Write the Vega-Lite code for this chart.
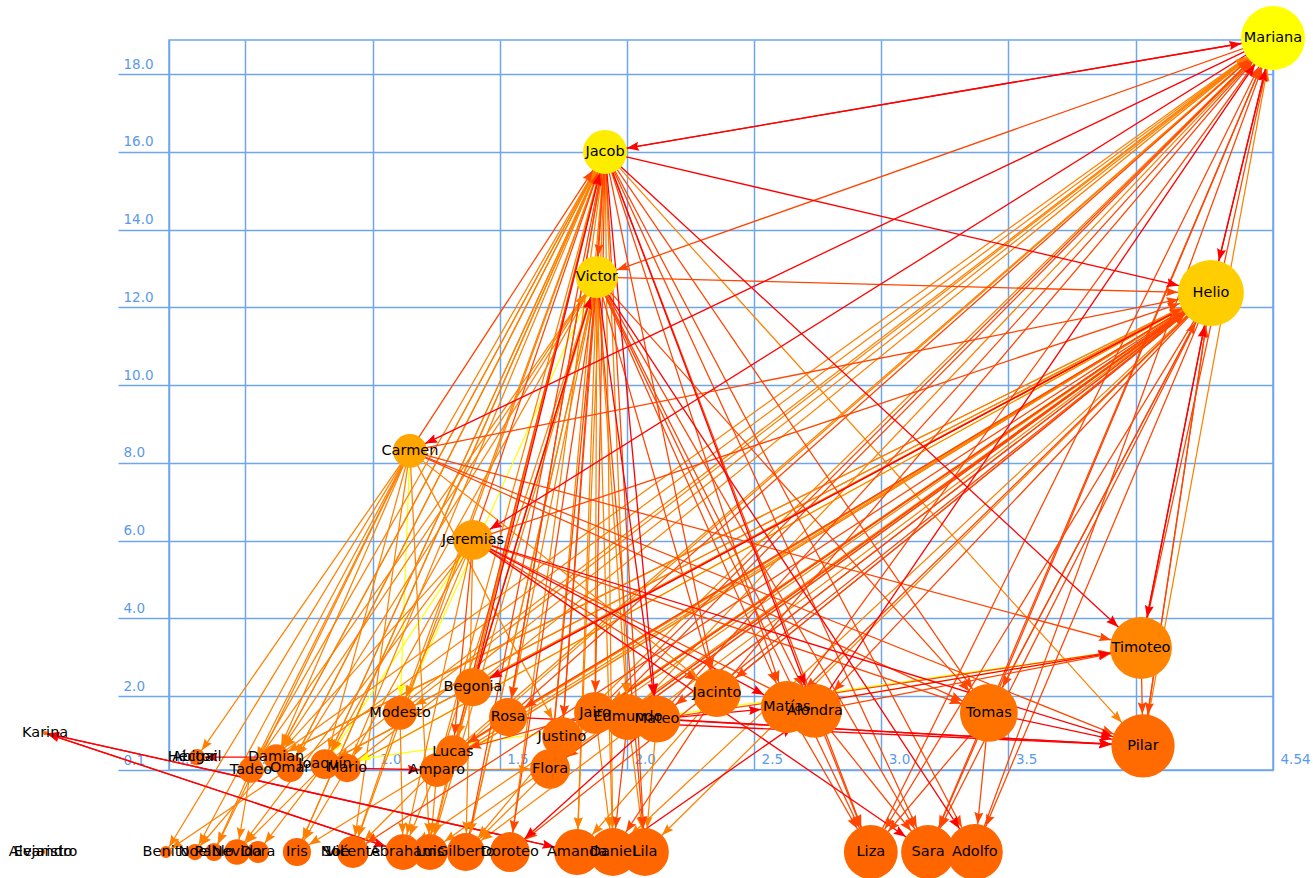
{
"$schema":"https://vega.github.io/schema/vega-lite/v6.json",
"autosize":"none",
"padding":{"left":169,"top":40,"right":40,"bottom":108},
"width":1104,
"height":730,
"background":"white",
"config":{
 "view":{"stroke":"#6ea6ee","strokeWidth":1.5},
 "axis":{"domain":false,"grid":true,"gridColor":"#6ea6ee","gridWidth":1.5,"labelColor":"#5a9aea","labelFont":"DejaVu Sans","labelFontSize":13.5,"labelFlush":false,"labelOverlap":false,"labelBound":false,"labelBaseline":"bottom","labelAlign":"left"},
 "axisX":{"ticks":false,"tickSize":0,"labelPadding":-4,"labelOffset":7},
 "axisY":{"ticks":true,"tickSize":51,"tickColor":"#6ea6ee","tickWidth":1.5,"labelPadding":-5,"labelOffset":-3}
},
"datasets":{
"nodes":[
{"name":"Mariana","x":4.54,"y":18.93,"deg":93,"rank":1.0},
{"name":"Jacob","x":1.914,"y":16.0,"deg":44,"rank":0.88},
{"name":"Victor","x":1.882,"y":12.78,"deg":40,"rank":0.76},
{"name":"Helio","x":4.296,"y":12.37,"deg":99,"rank":0.68},
{"name":"Carmen","x":1.147,"y":8.31,"deg":26,"rank":0.42},
{"name":"Jeremias","x":1.395,"y":6.02,"deg":36,"rank":0.36},
{"name":"Timoteo","x":4.021,"y":3.24,"deg":87,"rank":0.2},
{"name":"Pilar","x":4.029,"y":0.72,"deg":91,"rank":0.03},
{"name":"Tomas","x":3.423,"y":1.57,"deg":76,"rank":0.08},
{"name":"Alondra","x":2.739,"y":1.62,"deg":66,"rank":0.06},
{"name":"Matías","x":2.629,"y":1.72,"deg":61,"rank":0.06},
{"name":"Jacinto","x":2.354,"y":2.08,"deg":52,"rank":0.07},
{"name":"Jairo","x":1.875,"y":1.57,"deg":40,"rank":0.05},
{"name":"Edmundo","x":2.004,"y":1.46,"deg":48,"rank":0.05},
{"name":"Mateo","x":2.118,"y":1.41,"deg":50,"rank":0.05},
{"name":"Justino","x":1.745,"y":0.95,"deg":36,"rank":0.05},
{"name":"Rosa","x":1.533,"y":1.46,"deg":33,"rank":0.05},
{"name":"Begonia","x":1.395,"y":2.23,"deg":33,"rank":0.09},
{"name":"Modesto","x":1.108,"y":1.57,"deg":26,"rank":0.05},
{"name":"Lucas","x":1.316,"y":0.56,"deg":26,"rank":0.05},
{"name":"Flora","x":1.698,"y":0.13,"deg":36,"rank":0.04},
{"name":"Amparo","x":1.253,"y":0.1,"deg":26,"rank":0.04},
{"name":"Damian","x":0.621,"y":0.43,"deg":15,"rank":0.04},
{"name":"Tadeo","x":0.522,"y":0.1,"deg":15,"rank":0.03},
{"name":"Omar","x":0.676,"y":0.15,"deg":18,"rank":0.03},
{"name":"Joaquín","x":0.813,"y":0.25,"deg":20,"rank":0.04},
{"name":"Mario","x":0.9,"y":0.15,"deg":18,"rank":0.03},
{"name":"Héctor","x":0.29,"y":0.43,"deg":1.5,"rank":0.02},
{"name":"Abigail","x":0.31,"y":0.43,"deg":6,"rank":0.02},
{"name":"Karina","x":-0.287,"y":1.05,"deg":0.4,"rank":0},
{"name":"Alejandro","x":-0.295,"y":-2.01,"deg":0.4,"rank":0},
{"name":"Evaristo","x":-0.295,"y":-2.01,"deg":0.4,"rank":0},
{"name":"Benito","x":0.188,"y":-2.01,"deg":3.3,"rank":0},
{"name":"Noel","x":0.302,"y":-2.01,"deg":6,"rank":0},
{"name":"Pablo","x":0.377,"y":-2.01,"deg":7.4,"rank":0},
{"name":"Nevida","x":0.467,"y":-2.01,"deg":15,"rank":0},
{"name":"Dora","x":0.55,"y":-2.01,"deg":11,"rank":0},
{"name":"Iris","x":0.703,"y":-2.01,"deg":18,"rank":0},
{"name":"Sol","x":0.845,"y":-2.01,"deg":0.4,"rank":0},
{"name":"Noé","x":0.853,"y":-2.01,"deg":0.4,"rank":0},
{"name":"Vicente","x":0.923,"y":-2.01,"deg":23,"rank":0},
{"name":"Abraham","x":1.12,"y":-2.01,"deg":29,"rank":0},
{"name":"Luis","x":1.226,"y":-2.01,"deg":29,"rank":0},
{"name":"Gilberto","x":1.367,"y":-2.01,"deg":33,"rank":0},
{"name":"Doroteo","x":1.54,"y":-2.01,"deg":36,"rank":0},
{"name":"Amanda","x":1.804,"y":-2.01,"deg":48,"rank":0},
{"name":"Daniel","x":1.945,"y":-2.01,"deg":52,"rank":0},
{"name":"Lila","x":2.071,"y":-2.01,"deg":52,"rank":0},
{"name":"Liza","x":2.959,"y":-2.01,"deg":66,"rank":0},
{"name":"Sara","x":3.184,"y":-2.01,"deg":66,"rank":0},
{"name":"Adolfo","x":3.368,"y":-2.01,"deg":71,"rank":0}
],
"edges":[
{"s":"Victor","t":"Modesto","w":1},{"s":"Carmen","t":"Modesto","w":1},{"s":"Jeremias","t":"Joaquín","w":1},{"s":"Timoteo","t":"Matías","w":1},{"s":"Timoteo","t":"Joaquín","w":1},{"s":"Helio","t":"Mario","w":1},
{"s":"Carmen","t":"Abigail","w":2},{"s":"Carmen","t":"Benito","w":2},{"s":"Carmen","t":"Noel","w":2},{"s":"Carmen","t":"Pablo","w":2},{"s":"Carmen","t":"Damian","w":2},{"s":"Carmen","t":"Tadeo","w":2},{"s":"Carmen","t":"Joaquín","w":2},{"s":"Carmen","t":"Vicente","w":2},{"s":"Carmen","t":"Luis","w":2},{"s":"Carmen","t":"Jacinto","w":2},{"s":"Carmen","t":"Justino","w":2},
{"s":"Jeremias","t":"Damian","w":2},{"s":"Jeremias","t":"Nevida","w":2},{"s":"Jeremias","t":"Mario","w":2},{"s":"Jeremias","t":"Abraham","w":2},{"s":"Jeremias","t":"Modesto","w":2},{"s":"Jeremias","t":"Gilberto","w":2},
{"s":"Victor","t":"Damian","w":2},{"s":"Victor","t":"Joaquín","w":2},{"s":"Victor","t":"Omar","w":2},{"s":"Victor","t":"Lucas","w":2},{"s":"Victor","t":"Amparo","w":2},{"s":"Victor","t":"Gilberto","w":2},{"s":"Victor","t":"Luis","w":2},{"s":"Victor","t":"Rosa","w":2},{"s":"Victor","t":"Jairo","w":2},{"s":"Victor","t":"Edmundo","w":2},{"s":"Victor","t":"Daniel","w":2},{"s":"Victor","t":"Amanda","w":2},
{"s":"Jacob","t":"Damian","w":2},{"s":"Jacob","t":"Tadeo","w":2},{"s":"Jacob","t":"Omar","w":2},{"s":"Jacob","t":"Joaquín","w":2},{"s":"Jacob","t":"Modesto","w":2},{"s":"Jacob","t":"Lucas","w":2},{"s":"Jacob","t":"Edmundo","w":2},{"s":"Jacob","t":"Amanda","w":2},{"s":"Jacob","t":"Daniel","w":2},{"s":"Jacob","t":"Doroteo","w":2},{"s":"Jacob","t":"Flora","w":2},{"s":"Jacob","t":"Pilar","w":2},{"s":"Jacob","t":"Iris","w":2},
{"s":"Helio","t":"Damian","w":2},{"s":"Helio","t":"Joaquín","w":2},{"s":"Helio","t":"Modesto","w":2},{"s":"Helio","t":"Amparo","w":2},{"s":"Helio","t":"Lucas","w":2},{"s":"Helio","t":"Luis","w":2},{"s":"Helio","t":"Iris","w":2},{"s":"Helio","t":"Gilberto","w":2},{"s":"Helio","t":"Abraham","w":2},{"s":"Helio","t":"Jairo","w":2},{"s":"Helio","t":"Edmundo","w":2},{"s":"Helio","t":"Lila","w":2},{"s":"Helio","t":"Daniel","w":2},
{"s":"Damian","t":"Mariana","w":2},{"s":"Joaquín","t":"Mariana","w":2},{"s":"Mario","t":"Mariana","w":2},{"s":"Modesto","t":"Mariana","w":2},{"s":"Amparo","t":"Mariana","w":2},{"s":"Lucas","t":"Mariana","w":2},{"s":"Begonia","t":"Mariana","w":2},{"s":"Edmundo","t":"Mariana","w":2},{"s":"Justino","t":"Mariana","w":2},{"s":"Omar","t":"Mariana","w":2},{"s":"Pilar","t":"Mariana","w":2},
{"s":"Tadeo","t":"Pablo","w":2},{"s":"Tadeo","t":"Nevida","w":2},{"s":"Omar","t":"Benito","w":2},{"s":"Joaquín","t":"Dora","w":2},{"s":"Joaquín","t":"Nevida","w":2},{"s":"Damian","t":"Noel","w":2},{"s":"Mario","t":"Iris","w":2},{"s":"Lucas","t":"Luis","w":2},{"s":"Amparo","t":"Luis","w":2},{"s":"Modesto","t":"Abraham","w":2},{"s":"Amparo","t":"Abraham","w":2},{"s":"Amparo","t":"Flora","w":2},{"s":"Justino","t":"Gilberto","w":2},{"s":"Flora","t":"Gilberto","w":2},{"s":"Jairo","t":"Daniel","w":2},{"s":"Edmundo","t":"Lila","w":2},{"s":"Mateo","t":"Lila","w":2},{"s":"Jacinto","t":"Amanda","w":2},{"s":"Modesto","t":"Vicente","w":2},{"s":"Lucas","t":"Vicente","w":2},
{"s":"Damian","t":"Jacob","w":2},{"s":"Joaquín","t":"Jacob","w":2},{"s":"Mario","t":"Jacob","w":2},{"s":"Omar","t":"Jacob","w":2},{"s":"Amparo","t":"Jacob","w":2},{"s":"Luis","t":"Jacob","w":2},{"s":"Iris","t":"Jacob","w":2},{"s":"Vicente","t":"Jacob","w":2},{"s":"Lucas","t":"Victor","w":2},{"s":"Gilberto","t":"Victor","w":2},{"s":"Tadeo","t":"Victor","w":2},
{"s":"Modesto","t":"Helio","w":2},{"s":"Damian","t":"Helio","w":2},{"s":"Joaquín","t":"Helio","w":2},{"s":"Amparo","t":"Helio","w":2},{"s":"Rosa","t":"Helio","w":2},{"s":"Jairo","t":"Helio","w":2},{"s":"Lucas","t":"Helio","w":2},{"s":"Mario","t":"Helio","w":2},
{"s":"Mariana","t":"Victor","w":3},{"s":"Jacob","t":"Victor","w":3},{"s":"Victor","t":"Helio","w":3},{"s":"Carmen","t":"Timoteo","w":3},{"s":"Carmen","t":"Pilar","w":3},{"s":"Carmen","t":"Tomas","w":3},{"s":"Carmen","t":"Helio","w":3},{"s":"Jeremias","t":"Tomas","w":3},{"s":"Jeremias","t":"Jacinto","w":3},{"s":"Jeremias","t":"Lucas","w":3},{"s":"Jeremias","t":"Alondra","w":3},{"s":"Jeremias","t":"Helio","w":3},
{"s":"Jacob","t":"Matías","w":3},{"s":"Jacob","t":"Jacinto","w":3},{"s":"Jacob","t":"Jairo","w":3},{"s":"Jacob","t":"Liza","w":3},{"s":"Jacob","t":"Sara","w":3},{"s":"Jacob","t":"Adolfo","w":3},{"s":"Jacob","t":"Tomas","w":3},{"s":"Jacob","t":"Lila","w":3},{"s":"Jacob","t":"Justino","w":3},{"s":"Jacob","t":"Rosa","w":3},
{"s":"Victor","t":"Liza","w":3},{"s":"Victor","t":"Sara","w":3},{"s":"Victor","t":"Tomas","w":3},{"s":"Victor","t":"Alondra","w":3},{"s":"Victor","t":"Matías","w":3},{"s":"Victor","t":"Jacinto","w":3},{"s":"Victor","t":"Justino","w":3},{"s":"Victor","t":"Lila","w":3},{"s":"Victor","t":"Doroteo","w":3},{"s":"Victor","t":"Flora","w":3},
{"s":"Helio","t":"Pilar","w":3},{"s":"Helio","t":"Tomas","w":3},{"s":"Helio","t":"Liza","w":3},{"s":"Helio","t":"Sara","w":3},{"s":"Helio","t":"Adolfo","w":3},{"s":"Helio","t":"Jacinto","w":3},{"s":"Helio","t":"Matías","w":3},{"s":"Helio","t":"Mateo","w":3},{"s":"Helio","t":"Justino","w":3},{"s":"Helio","t":"Rosa","w":3},{"s":"Helio","t":"Flora","w":3},{"s":"Helio","t":"Doroteo","w":3},{"s":"Helio","t":"Vicente","w":3},{"s":"Helio","t":"Alondra","w":3},
{"s":"Jacinto","t":"Mariana","w":3},{"s":"Matías","t":"Mariana","w":3},{"s":"Mateo","t":"Mariana","w":3},{"s":"Jairo","t":"Mariana","w":3},{"s":"Rosa","t":"Mariana","w":3},{"s":"Flora","t":"Mariana","w":3},{"s":"Tomas","t":"Mariana","w":3},{"s":"Timoteo","t":"Mariana","w":3},{"s":"Liza","t":"Mariana","w":3},{"s":"Sara","t":"Mariana","w":3},{"s":"Adolfo","t":"Mariana","w":3},
{"s":"Jacinto","t":"Helio","w":3},{"s":"Mateo","t":"Helio","w":3},{"s":"Justino","t":"Helio","w":3},{"s":"Flora","t":"Helio","w":3},{"s":"Begonia","t":"Helio","w":3},{"s":"Tomas","t":"Helio","w":3},{"s":"Pilar","t":"Helio","w":3},{"s":"Edmundo","t":"Helio","w":3},
{"s":"Rosa","t":"Jacob","w":3},{"s":"Lucas","t":"Jacob","w":3},{"s":"Jeremias","t":"Jacob","w":3},{"s":"Gilberto","t":"Jacob","w":3},{"s":"Carmen","t":"Jacob","w":3},
{"s":"Timoteo","t":"Pilar","w":3},{"s":"Alondra","t":"Timoteo","w":3},{"s":"Mateo","t":"Timoteo","w":3},{"s":"Alondra","t":"Sara","w":3},{"s":"Alondra","t":"Liza","w":3},{"s":"Tomas","t":"Liza","w":3},{"s":"Tomas","t":"Sara","w":3},{"s":"Tomas","t":"Adolfo","w":3},{"s":"Matías","t":"Liza","w":3},{"s":"Jairo","t":"Lucas","w":3},{"s":"Edmundo","t":"Daniel","w":3},{"s":"Jacinto","t":"Daniel","w":3},{"s":"Justino","t":"Jairo","w":3},{"s":"Rosa","t":"Lucas","w":3},
{"s":"Mariana","t":"Jacob","w":4},{"s":"Jacob","t":"Mariana","w":4},{"s":"Mariana","t":"Helio","w":4},{"s":"Helio","t":"Mariana","w":4},{"s":"Mariana","t":"Carmen","w":4},{"s":"Mariana","t":"Jeremias","w":4},{"s":"Helio","t":"Begonia","w":4},{"s":"Jacob","t":"Helio","w":4},{"s":"Jacob","t":"Timoteo","w":4},{"s":"Helio","t":"Timoteo","w":4},{"s":"Timoteo","t":"Helio","w":4},{"s":"Jacob","t":"Alondra","w":4},{"s":"Jacob","t":"Mateo","w":4},{"s":"Victor","t":"Adolfo","w":4},{"s":"Begonia","t":"Victor","w":4},{"s":"Begonia","t":"Jacob","w":4},{"s":"Jeremias","t":"Pilar","w":4},{"s":"Jeremias","t":"Matías","w":4},{"s":"Jeremias","t":"Sara","w":4},{"s":"Mateo","t":"Pilar","w":4},{"s":"Edmundo","t":"Pilar","w":4},{"s":"Tomas","t":"Pilar","w":4},{"s":"Rosa","t":"Pilar","w":4},{"s":"Matías","t":"Timoteo","w":4},{"s":"Mateo","t":"Matías","w":4},{"s":"Alondra","t":"Mariana","w":4},{"s":"Mateo","t":"Doroteo","w":4},{"s":"Karina","t":"Abraham","w":4},{"s":"Abraham","t":"Karina","w":4},{"s":"Karina","t":"Amanda","w":4},{"s":"Amanda","t":"Karina","w":4},{"s":"Mario","t":"Amparo","w":4},{"s":"Damian","t":"Abigail","w":4},{"s":"Daniel","t":"Alondra","w":4},{"s":"Victor","t":"Mateo","w":4}
]
},
"resolve":{"scale":{"color":"independent","size":"independent"}},
"layer":[
{
 "data":{"name":"edges"},
 "transform":[
  {"lookup":"s","from":{"data":{"name":"nodes"},"key":"name","fields":["x","y"]},"as":["sx","sy"]},
  {"lookup":"t","from":{"data":{"name":"nodes"},"key":"name","fields":["x","y","deg"]},"as":["tx","ty","tdeg"]}
 ],
 "mark":{"type":"rule"},
 "encoding":{
  "x":{"field":"sx","type":"quantitative","scale":{"domain":[0.2,4.54],"nice":false,"zero":false},"axis":{"title":null,"values":[0.2,0.5,1,1.5,2,2.5,3,3.5,4,4.54],"labelExpr":"datum.value == 4.54 ? '4.54' : format(datum.value, '.1f')"}},
  "y":{"field":"sy","type":"quantitative","scale":{"domain":[0.1,18.88],"nice":false,"zero":false},"axis":{"title":null,"values":[0.1,2,4,6,8,10,12,14,16,18],"format":".1f"}},
  "x2":{"field":"tx"},
  "y2":{"field":"ty"},
  "color":{"field":"w","type":"ordinal","scale":{"domain":[1,2,3,4],"range":["#ffff00","#ff8000","#ff4500","#ff0000"]},"legend":null},
  "strokeWidth":{"field":"w","type":"ordinal","scale":{"domain":[1,2,3,4],"range":[1.2,1.3,1.6,2.6]},"legend":null}
 }
},
{
 "data":{"name":"edges"},
 "transform":[
  {"lookup":"s","from":{"data":{"name":"nodes"},"key":"name","fields":["x","y"]},"as":["sx","sy"]},
  {"lookup":"t","from":{"data":{"name":"nodes"},"key":"name","fields":["x","y","deg"]},"as":["tx","ty","tdeg"]}
 ],
 "mark":{"type":"point","filled":true,"opacity":1,"strokeWidth":0,
  "shape":"M0,0L-2,-0.75L-1.7,0L-2,0.75Z",
  "angle":{"expr":"atan2(scale('y', datum.ty) - scale('y', datum.sy), scale('x', datum.tx) - scale('x', datum.sx)) * 180 / PI"},
  "xOffset":{"expr":"-sqrt(datum.tdeg * 44) / 2 * cos(atan2(scale('y', datum.ty) - scale('y', datum.sy), scale('x', datum.tx) - scale('x', datum.sx)))"},
  "yOffset":{"expr":"-sqrt(datum.tdeg * 44) / 2 * sin(atan2(scale('y', datum.ty) - scale('y', datum.sy), scale('x', datum.tx) - scale('x', datum.sx)))"}
 },
 "encoding":{
  "x":{"field":"tx","type":"quantitative","scale":{"domain":[0.2,4.54],"nice":false,"zero":false},"axis":{"title":null,"values":[0.2,0.5,1,1.5,2,2.5,3,3.5,4,4.54],"labelExpr":"datum.value == 4.54 ? '4.54' : format(datum.value, '.1f')"}},
  "y":{"field":"ty","type":"quantitative","scale":{"domain":[0.1,18.88],"nice":false,"zero":false},"axis":{"title":null,"values":[0.1,2,4,6,8,10,12,14,16,18],"format":".1f"}},
  "color":{"field":"w","type":"ordinal","scale":{"domain":[1,2,3,4],"range":["#ffff00","#ff8000","#ff4500","#ff0000"]},"legend":null},
  "size":{"field":"w","type":"ordinal","scale":{"domain":[1,2,3,4],"range":[130,150,190,300]},"legend":null}
 }
},
{
 "data":{"name":"nodes"},
 "mark":{"type":"circle","opacity":1,"strokeWidth":0},
 "encoding":{
  "x":{"field":"x","type":"quantitative","scale":{"domain":[0.2,4.54],"nice":false,"zero":false},"axis":{"title":null,"values":[0.2,0.5,1,1.5,2,2.5,3,3.5,4,4.54],"labelExpr":"datum.value == 4.54 ? '4.54' : format(datum.value, '.1f')"}},
  "y":{"field":"y","type":"quantitative","scale":{"domain":[0.1,18.88],"nice":false,"zero":false},"axis":{"title":null,"values":[0.1,2,4,6,8,10,12,14,16,18],"format":".1f"}},
  "size":{"field":"deg","type":"quantitative","scale":{"domain":[0,100],"range":[0,4400],"zero":true},"legend":null},
  "color":{"field":"rank","type":"quantitative","scale":{"domain":[0,1],"range":["#ff6600","#ffff00"],"interpolate":"rgb"},"legend":null}
 }
},
{
 "data":{"name":"nodes"},
 "mark":{"type":"text","font":"DejaVu Sans","fontSize":14.5,"color":"#000000","align":"center","baseline":"middle"},
 "encoding":{
  "x":{"field":"x","type":"quantitative","scale":{"domain":[0.2,4.54],"nice":false,"zero":false},"axis":{"title":null,"values":[0.2,0.5,1,1.5,2,2.5,3,3.5,4,4.54],"labelExpr":"datum.value == 4.54 ? '4.54' : format(datum.value, '.1f')"}},
  "y":{"field":"y","type":"quantitative","scale":{"domain":[0.1,18.88],"nice":false,"zero":false},"axis":{"title":null,"values":[0.1,2,4,6,8,10,12,14,16,18],"format":".1f"}},
  "text":{"field":"name","type":"nominal"}
 }
}
]
}
